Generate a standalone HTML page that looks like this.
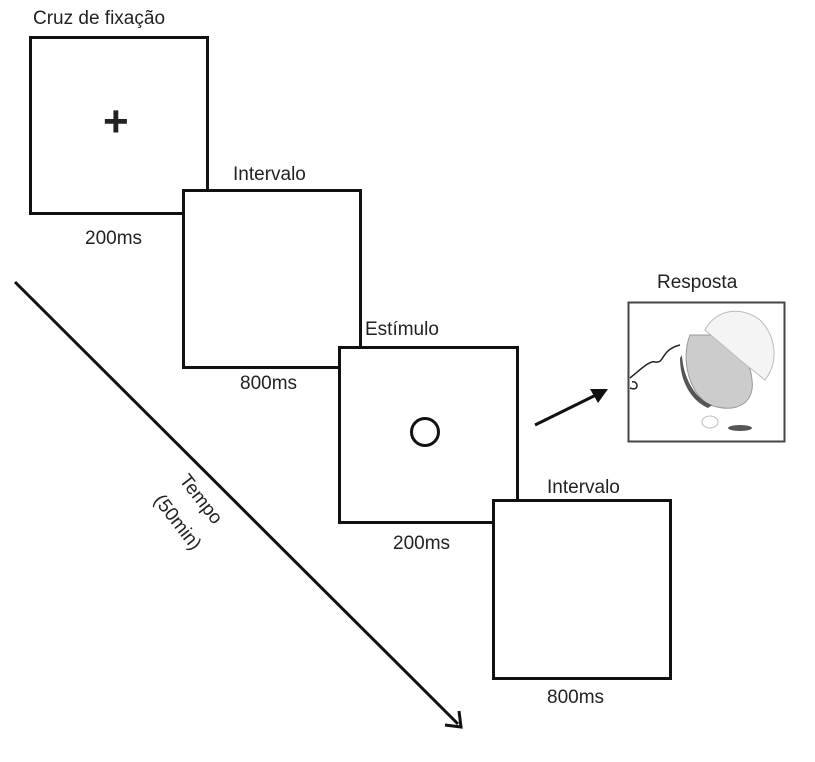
<!DOCTYPE html>
<html><head><meta charset="utf-8"><style>
body{margin:0;background:#fff;width:815px;height:762px;overflow:hidden;position:relative;font-family:"Liberation Sans",sans-serif;color:#222}
.b{position:absolute;border:3px solid #111;box-sizing:border-box;background:#fff}
.t{position:absolute;font-size:19px;white-space:nowrap;line-height:1}
</style></head><body>
<div class="t" style="left:33px;top:9px">Cruz de fixação</div>
<div class="b" style="left:29px;top:36px;width:180px;height:179px"></div>
<div class="t" style="left:103px;top:100px;font-size:44px;font-weight:bold">+</div>
<div class="t" style="left:85px;top:229px">200ms</div>
<div class="t" style="left:233px;top:165px">Intervalo</div>
<div class="b" style="left:182px;top:189px;width:180px;height:180px"></div>
<div class="t" style="left:240px;top:374px">800ms</div>
<div class="t" style="left:365px;top:320px">Estímulo</div>
<div class="b" style="left:338px;top:346px;width:181px;height:178px"></div>
<div style="position:absolute;left:410px;top:417px;width:30px;height:30px;border:3px solid #111;border-radius:50%;box-sizing:border-box"></div>
<div class="t" style="left:393px;top:534px">200ms</div>
<div class="t" style="left:547px;top:478px">Intervalo</div>
<div class="b" style="left:492px;top:499px;width:180px;height:181px"></div>
<div class="t" style="left:547px;top:688px">800ms</div>
<div class="t" style="left:657px;top:273px">Resposta</div>
<svg style="position:absolute;left:0;top:0" width="815" height="762">
<rect x="628.5" y="302.5" width="156" height="139" fill="#fff" stroke="#444" stroke-width="2"/>
<path d="M630 378 C640 370,650 360,655 362 C665 364,660 350,680 345 " fill="none" stroke="#222" stroke-width="1.5"/>
<path d="M630 388 C640 392,638 380,632 382" fill="none" stroke="#222" stroke-width="1.5"/>
<path d="M690 335 C680 360,690 395,710 405 C740 415,755 400,752 380 C750 355,730 340,710 335 Z" fill="#ccc" stroke="#999"/>
<path d="M682 355 C683 375,693 398,712 405 L708 408 C690 400,680 380,680 358 Z" fill="#555"/>
<path d="M705 330 C715 310,740 305,760 320 C775 335,780 360,765 380 L740 360 Z" fill="#f4f4f4" stroke="#bbb"/>
<ellipse cx="740" cy="428" rx="12" ry="3" fill="#555"/>
<ellipse cx="710" cy="422" rx="8" ry="6" fill="#fff" stroke="#bbb"/>
<line x1="535" y1="425" x2="598" y2="394" stroke="#111" stroke-width="3"/>
<polygon points="608,389 590,389 598,403" fill="#111"/>
<line x1="15" y1="282" x2="458" y2="724" stroke="#111" stroke-width="3"/>
<polyline points="445,725 461,727 459,711" fill="none" stroke="#111" stroke-width="3"/>
</svg>
<div class="t" style="left:172px;top:490px;transform:rotate(52deg);transform-origin:center">Tempo</div>
<div class="t" style="left:145px;top:513px;transform:rotate(52deg);transform-origin:center">(50min)</div>
</body></html>
